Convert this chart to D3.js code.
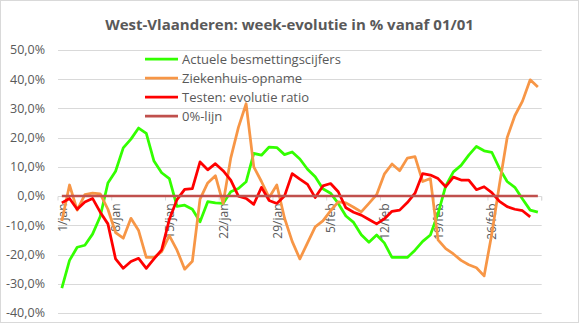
<!DOCTYPE html>
<html>
<head>
<meta charset="utf-8">
<script src="https://cdn.jsdelivr.net/npm/d3@7"></script>
<style>
  body { margin: 0; background: #fff; }
  text { font-family: "Open Sans", "Liberation Sans", sans-serif; fill: #595959; }
</style>
</head>
<body>
<div class="canvas"></div>
<script>
// week-evolutie (%) per dag, West-Vlaanderen, vanaf 1 januari
const seriesNames = ['Actuele besmettingscijfers', 'Ziekenhuis-opname', 'Testen: evolutie ratio', '0%-lijn'];
const seriesColours = ['#33ff00', '#f79646', '#ff0000', '#c0504d'];

const besmettingen = [
  -31.5, -22, -17.5, -16.8, -13, -7, 4.5, 8.5, 16.5, 19.5,
  23.3, 21.5, 12, 8, 6, -3.5, -3.1, -4.5, -8.8, -1.9,
  -2.3, -2.5, 1.5, 2.6, 4.9, 14.6, 14, 16.8, 16.6, 14.2,
  15.1, 12.7, 9.2, 6.6, 2.5, 1, -2.5, -6.8, -9, -13.2,
  -15.8, -13.3, -16, -21, -21, -21, -18.5, -15.5, -13.3, -6,
  3.5, 8.3, 10.5, 14, 17, 15.5, 15, 9.5, 5, 3,
  -1, -4.8, -5.5
];
const ziekenhuis = [
  -8.5, 3.8, -4.8, 0.5, 1, 0.8, -4.5, -12.5, -14.4, -7.6,
  -11.8, -21, -21, -19, -13.5, -18.5, -25, -22.3, -1, 4.5,
  7, -2.5, 13, 23.5, 31.6, 10, 5, -0.5, 3.8, -7.5,
  -15.5, -21.5, -16, -10.5, -8.5, -5, -2, -2.3, -3.8, -5.4,
  -2.5, 0.5, 7.5, 11, 8.7, 13, 13.5, 5, 6, -15,
  -18, -19.8, -22, -23.5, -24.5, -27.3, -13, 4, 20, 27.5,
  32.5, 39.8, 37.3
];
const testen = [
  -2.3, -0.8, -4.5, -2, -0.8, -5.5, -9.5, -21.5, -24.7, -22.4,
  -21.3, -24.7, -21.5, -18.4, -8, -1.2, 2.3, 2.6, 11.7, 9,
  11.1, 8.7, 5.5, 0, -0.8, -2.8, 3, -1.5, -2.5, 0,
  7.7, 5.8, 4, -0.5, 3.5, 4.3, 1.5, -4, -5.5, -6.5,
  -8, -9.5, -7.8, -5.2, -4.8, -2.2, 1, 7.7, 7.2, 6,
  3.2, 6.5, 5.5, 5.5, 2.2, 3.2, 1.2, -1.8, -3.6, -4.5,
  -5, -7.1, null
];
const nulLijn = besmettingen.map(() => 0);

const tickLabels = ['1/jan', '8/jan', '15/jan', '22/jan', '29/jan', '5/feb', '12/feb', '19/feb', '26/feb'];
const yTicks = [-40, -30, -20, -10, 0, 10, 20, 30, 40, 50];

const dims = { width: 579, height: 323 };
const plot = { left: 58, right: 541.7, top: 50, bottom: 313 };

const svg = d3.select('.canvas')
  .append('svg')
  .attr('width', dims.width)
  .attr('height', dims.height);

svg.append('rect')
  .attr('x', 0.5).attr('y', 0.5)
  .attr('width', dims.width - 1).attr('height', dims.height - 1)
  .attr('fill', '#fff')
  .attr('stroke', '#d9d9d9');

const days = d3.range(besmettingen.length);

const x = d3.scaleBand()
  .domain(days)
  .range([plot.left, plot.right]);
const cx = i => x(i) + x.bandwidth() / 2;

const y = d3.scaleLinear()
  .domain([-40, 50])
  .range([plot.bottom, plot.top]);

const nl = d3.formatLocale({ decimal: ',', thousands: '.', grouping: [3], currency: ['€', ''], minus: '-' });
const pct = d => nl.format('.1f')(d) + '%';

// horizontal gridlines
svg.append('g')
  .selectAll('line')
  .data(yTicks)
  .join('line')
  .attr('x1', plot.left).attr('x2', plot.right)
  .attr('y1', d => Math.round(y(d)) + 0.5).attr('y2', d => Math.round(y(d)) + 0.5)
  .attr('stroke', '#d9d9d9');

// y labels
svg.append('g')
  .selectAll('text')
  .data(yTicks)
  .join('text')
  .attr('x', 45)
  .attr('y', d => y(d))
  .attr('dy', '0.35em')
  .attr('text-anchor', 'end')
  .style('font-size', '12.5px')
  .text(pct);

// category axis on the zero line, tick marks every week
const y0 = Math.round(y(0)) + 0.5;
const weekTicks = d3.range(0, besmettingen.length + 1, 7).concat([besmettingen.length]);
svg.append('g')
  .selectAll('line')
  .data(weekTicks)
  .join('line')
  .attr('x1', d => d === besmettingen.length ? plot.right : x(d))
  .attr('x2', d => d === besmettingen.length ? plot.right : x(d))
  .attr('y1', y0).attr('y2', y0 + 4)
  .attr('stroke', '#d9d9d9');

svg.append('g')
  .selectAll('text')
  .data(tickLabels)
  .join('text')
  .attr('transform', (d, i) => `translate(${cx(i * 7) + 0.5},${y0 + 7}) rotate(-90)`)
  .attr('dy', '0.35em')
  .attr('text-anchor', 'end')
  .style('font-size', '12px')
  .text(d => d);

// series lines
const line = d3.line()
  .defined(d => d != null)
  .x((d, i) => cx(i))
  .y(d => y(d));

const allSeries = [besmettingen, ziekenhuis, testen, nulLijn];

svg.append('g')
  .selectAll('path')
  .data(allSeries)
  .join('path')
  .attr('d', line)
  .attr('fill', 'none')
  .attr('stroke', (d, i) => seriesColours[i])
  .attr('stroke-width', (d, i) => i === 3 ? 2.5 : 2.75)
  .attr('stroke-linejoin', 'round');

// legend
const legend = svg.append('g')
  .attr('transform', 'translate(145, 59)');

const rows = legend.selectAll('g')
  .data(seriesNames)
  .join('g')
  .attr('transform', (d, i) => `translate(0, ${i * 19})`);

rows.append('line')
  .attr('x1', 0).attr('x2', 33)
  .attr('stroke', (d, i) => seriesColours[i])
  .attr('stroke-width', 2.75);

rows.append('text')
  .attr('x', 37)
  .attr('dy', '0.35em')
  .style('font-size', '13px')
  .text(d => d);

// title
svg.append('text')
  .attr('x', 289.5)
  .attr('y', 30)
  .attr('text-anchor', 'middle')
  .style('font-size', '15px')
  .style('font-weight', 'bold')
  .text('West-Vlaanderen: week-evolutie in % vanaf 01/01');
</script>
</body>
</html>
